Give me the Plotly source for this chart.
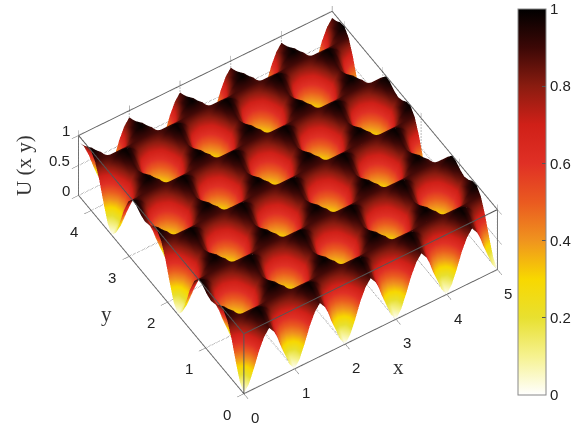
import numpy as np
import plotly.graph_objects as go

# one half period of the landscape
# rows: y from a well to the next well row, columns: x from a well to a saddle
U_HALF = [
    [0.00, 0.12, 0.34, 0.59, 0.78, 0.89],
    [0.12, 0.20, 0.40, 0.66, 0.85, 0.92],
    [0.38, 0.44, 0.59, 0.78, 0.92, 0.98],
    [0.67, 0.71, 0.78, 0.89, 0.96, 0.99],
    [0.89, 0.89, 0.89, 0.89, 0.89, 0.89],
    [0.99, 0.96, 0.89, 0.78, 0.71, 0.67],
    [0.98, 0.92, 0.78, 0.59, 0.44, 0.38],
    [0.92, 0.85, 0.66, 0.40, 0.20, 0.12],
    [0.89, 0.78, 0.59, 0.34, 0.12, 0.00],
]
X_RANGE = [0, 5]
Y_RANGE = [0, 4.33]
Z_RANGE = [0, 1]
X_TICKS = [0, 1, 2, 3, 4, 5]
Y_TICKS = [0, 1, 2, 3, 4]
Z_TICKS = [0, 0.5, 1]
Z_LABELS = ['0', '0.5', '1']
CBAR_TICKS = [0, 0.2, 0.4, 0.6, 0.8, 1]
CBAR_LABELS = ['0', '0.2', '0.4', '0.6', '0.8', '1']

COLORS = [
    [0.0, '#ffffff'], [0.1, '#f6f290'], [0.2, '#e8e030'], [0.3, '#f8d800'],
    [0.4, '#f0941e'], [0.5, '#ea5a20'], [0.6, '#e03025'], [0.7, '#d02018'],
    [0.8, '#8a1c10'], [0.9, '#3c0806'], [1.0, '#000000'],
]

half = np.array(U_HALF)
cell = np.hstack([half, half[:, -2:0:-1]])
cell = np.vstack([cell, cell[-2:0:-1]])
z = np.tile(cell, (3, 5))[:41, :]
z = np.hstack([z, z[:, :1]])
x = np.linspace(X_RANGE[0], X_RANGE[1], z.shape[1])
y = np.linspace(Y_RANGE[0], Y_RANGE[1], z.shape[0])

fig = go.Figure()

fig.add_trace(go.Surface(
    x=x, y=y, z=z,
    colorscale=COLORS, cmin=0, cmax=1,
    lighting=dict(ambient=1, diffuse=0, specular=0, fresnel=0, roughness=1),
    contours=dict(x=dict(highlight=False), y=dict(highlight=False), z=dict(highlight=False)),
    colorbar=dict(
        thicknessmode='pixels', thickness=28,
        lenmode='pixels', len=386,
        x=518 / 583, xanchor='left', xpad=0,
        y=1 - 395 / 426, yanchor='bottom', ypad=0,
        tickvals=CBAR_TICKS, ticktext=CBAR_LABELS,
        ticks='inside', ticklen=4, tickcolor='#555555',
        outlinecolor='#888888', outlinewidth=1,
        tickfont=dict(family='Liberation Sans', size=15, color='#222222'),
    ),
))

def box_line(xs, ys, zs, dash='solid', color='#555555'):
    fig.add_trace(go.Scatter3d(
        x=xs, y=ys, z=zs, mode='lines', hoverinfo='skip', showlegend=False,
        line=dict(color=color, width=2, dash=dash),
    ))

# dotted grid on the floor and back walls
for t in X_TICKS[1:-1]:
    box_line([t, t], Y_RANGE, [0, 0], 'dot', '#777777')
    box_line([t, t], [Y_RANGE[1], Y_RANGE[1]], Z_RANGE, 'dot', '#777777')
for t in Y_TICKS[1:]:
    box_line(X_RANGE, [t, t], [0, 0], 'dot', '#777777')
    box_line([X_RANGE[1], X_RANGE[1]], [t, t], Z_RANGE, 'dot', '#777777')
for t in Z_TICKS[:-1]:
    box_line(X_RANGE, [Y_RANGE[1], Y_RANGE[1]], [t, t], 'dot', '#777777')
    box_line([X_RANGE[1], X_RANGE[1]], Y_RANGE, [t, t], 'dot', '#777777')
box_line([X_RANGE[0], X_RANGE[0]], [Y_RANGE[1], Y_RANGE[1]], Z_RANGE, 'dot', '#777777')
box_line([X_RANGE[1], X_RANGE[1]], [Y_RANGE[0], Y_RANGE[0]], Z_RANGE, 'dot', '#777777')

# front edges of the box, the axis mirror only draws the back ones
box_line(X_RANGE, [Y_RANGE[0], Y_RANGE[0]], [Z_RANGE[1], Z_RANGE[1]])
box_line([X_RANGE[0], X_RANGE[0]], Y_RANGE, [Z_RANGE[1], Z_RANGE[1]])
box_line([X_RANGE[0], X_RANGE[0]], [Y_RANGE[0], Y_RANGE[0]], Z_RANGE)

axis_style = dict(
    showbackground=False, showgrid=False, zeroline=False, showspikes=False,
    showline=True, linecolor='#666666', linewidth=2, mirror='all',
    ticks='outside', ticklen=8, tickcolor='#666666', title_text='',
    showticklabels=False,
)

tick_font = dict(family='Liberation Sans', size=15, color='#222222')
title_font = dict(family='Liberation Serif', size=21, color='#333333')
labels = []
for t in X_TICKS:
    labels.append(dict(x=t, y=0, z=0, text=str(t), showarrow=False, xshift=11, yshift=-24, font=tick_font))
for t in Y_TICKS:
    labels.append(dict(x=0, y=t, z=0, text=str(t), showarrow=False, xshift=-17, yshift=-21, font=tick_font))
for t, lab in zip(Z_TICKS, Z_LABELS):
    labels.append(dict(x=0, y=Y_RANGE[1], z=t, text=lab, showarrow=False, xanchor='right', xshift=-7, yshift=5, font=tick_font))

fig.update_layout(
    width=583, height=426,
    margin=dict(l=0, r=0, t=0, b=0),
    paper_bgcolor='white',
    showlegend=False,
    scene=dict(
        domain=dict(x=[0, 0.988], y=[0.05, 1]),
        aspectmode='manual',
        aspectratio=dict(x=1.486, y=1.516, z=0.461),
        camera=dict(
            projection=dict(type='orthographic'),
            up=dict(x=0, y=0, z=1),
            center=dict(x=0, y=0, z=0),
            eye=dict(x=-0.69, y=-1.08, z=1.53),
        ),
        xaxis=dict(axis_style, range=X_RANGE, tickvals=X_TICKS),
        yaxis=dict(axis_style, range=Y_RANGE, tickvals=Y_TICKS),
        zaxis=dict(axis_style, range=Z_RANGE, tickvals=Z_TICKS),
        annotations=labels,
    ),
    annotations=[
        dict(text='x', x=398 / 583, y=1 - 367 / 426, xref='paper', yref='paper', showarrow=False,
             xanchor='center', yanchor='middle', font=title_font),
        dict(text='y', x=106 / 583, y=1 - 314 / 426, xref='paper', yref='paper', showarrow=False,
             xanchor='center', yanchor='middle', font=title_font),
        dict(text='U (x y)', x=24 / 583, y=1 - 166 / 426, xref='paper', yref='paper', showarrow=False,
             xanchor='center', yanchor='middle', textangle=-90, font=title_font),
    ],
)

# the page's default body margin would push the figure off by 8 px
fig.write_html("out.html", config=dict(displayModeBar=False),
               post_script="document.body.style.margin='0';")
